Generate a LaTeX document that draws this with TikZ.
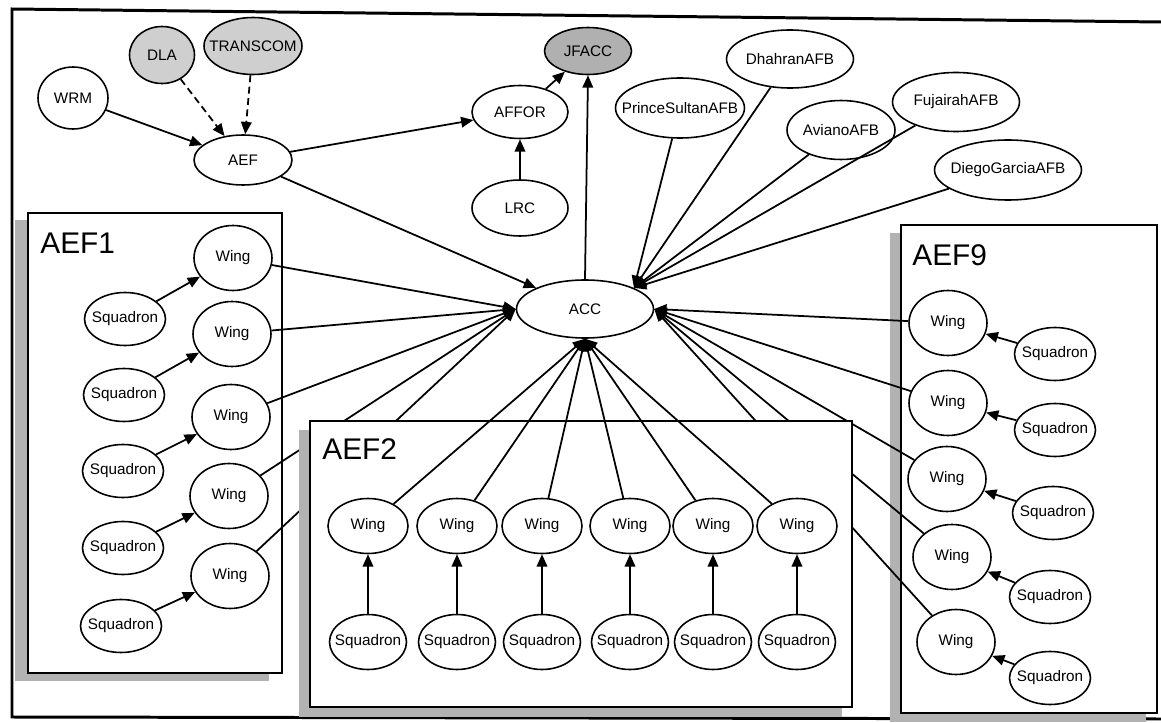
\documentclass[tikz,border=0pt]{standalone}
\usepackage{fontspec}
\setmainfont{Liberation Sans}
\usetikzlibrary{arrows.meta,shapes.geometric}

\newcommand{\etic}[1]{\makebox[0pt]{#1}}

\begin{document}
\begin{tikzpicture}[x=0.02cm, y=-0.02cm,
		every node/.style={font=\fontsize{8.7}{10}\selectfont},
		nodo/.style={draw, ellipse, line width=0.9pt, fill=white, inner sep=0pt},
		grigio/.style={nodo, fill=gray!38},
		scuro/.style={nodo, fill=gray!62},
		wing/.style={nodo, minimum width=1.56cm, minimum height=1.3cm},
		squad/.style={nodo, minimum width=1.62cm, minimum height=1.06cm},
		arco/.style={line width=1pt, -{Triangle[length=7pt, width=6pt]}},
		gruppo/.style={draw, line width=0.8pt, fill=white},
		ombra/.style={fill=gray!60},
		titolo/.style={anchor=west, inner sep=0pt, font=\fontsize{17}{20}\selectfont}]
	\useasboundingbox (0,0) rectangle (1161,723);

	% cornice
	\draw[line width=1.7pt] (1161,22) -- (12,9) -- (12,717) -- (1161,719);

	% riquadri AEF1 e AEF9
	\fill[ombra] (15,220) rectangle (269,681);
	\draw[gruppo] (28,213) rectangle (282,673);
	\node[titolo] (t1) at (40,243) {AEF1};
	\fill[ombra] (890,233) rectangle (1146,722);
	\draw[gruppo] (901,225) rectangle (1157,713);
	\node[titolo] (t9) at (912,255) {AEF9};

	% nodi in alto
	\node[nodo, minimum width=1.4cm, minimum height=1.24cm] (wrm) at (73,98) {\etic{WRM}};
	\node[grigio, minimum width=1.3cm, minimum height=1.14cm] (dla) at (162,55) {\etic{DLA}};
	\node[grigio, minimum width=1.96cm, minimum height=1.14cm] (transcom) at (253,46) {\etic{TRANSCOM}};
	\node[nodo, minimum width=1.96cm, minimum height=1.0cm] (aef) at (243,160) {\etic{AEF}};
	\node[nodo, minimum width=1.92cm, minimum height=1.06cm] (affor) at (520,112) {\etic{AFFOR}};
	\node[scuro, minimum width=1.74cm, minimum height=0.94cm] (jfacc) at (588,51) {\etic{JFACC}};
	\node[nodo, minimum width=1.92cm, minimum height=1.12cm] (lrc) at (520,208) {\etic{LRC}};
	\node[nodo, minimum width=2.58cm, minimum height=1.2cm] (ps) at (680,108) {\etic{PrinceSultanAFB}};
	\node[nodo, minimum width=2.54cm, minimum height=1.16cm] (dh) at (790,59) {\etic{DhahranAFB}};
	\node[nodo, minimum width=2.16cm, minimum height=1.18cm] (av) at (841,130) {\etic{AvianoAFB}};
	\node[nodo, minimum width=2.54cm, minimum height=1.18cm] (fu) at (956,102) {\etic{FujairahAFB}};
	\node[nodo, minimum width=2.94cm, minimum height=1.2cm] (dg) at (1008,170) {\etic{DiegoGarciaAFB}};
	\node[nodo, minimum width=2.74cm, minimum height=1.16cm] (acc) at (585,309) {\etic{ACC}};

	\draw[arco] (wrm) -- (aef);
	\draw[arco, dash pattern=on 4pt off 2.5pt] (dla) -- (aef);
	\draw[arco, dash pattern=on 4pt off 2.5pt] (transcom) -- (aef);
	\draw[arco] (aef) -- (affor);
	\draw[arco] (lrc) -- (affor);
	\draw[arco] (affor) -- (jfacc);
	\draw[arco] (acc.north) -- (jfacc.south);
	\draw[arco] (aef) -- (acc.north west);
	\foreach \b in {ps,dh,av,fu,dg}
		\draw[arco] (\b) -- (acc.north east);

	% AEF1
	\foreach \i/\wx/\wy/\sx/\sy in {1/233/258/125/319, 2/232/334/124/395, 3/231/417/123/471, 4/229/496/123/548, 5/230/576/121/626} {
		\node[wing] (w1_\i) at (\wx,\wy) {\etic{Wing}};
		\node[squad] (s1_\i) at (\sx,\sy) {\etic{Squadron}};
		\draw[arco] (s1_\i) -- (w1_\i);
		\draw[arco] (w1_\i) -- (acc.west);
	}

	% AEF9
	\foreach \i/\wx/\wy/\sx/\sy in {1/948/323/1055/354, 2/948/403/1055/430, 3/947/479/1053/513, 4/952/557/1050/597, 5/956/642/1050/678} {
		\node[wing] (w9_\i) at (\wx,\wy) {\etic{Wing}};
		\node[squad] (s9_\i) at (\sx,\sy) {\etic{Squadron}};
		\draw[arco] (s9_\i) -- (w9_\i);
		\draw[arco] (w9_\i) -- (acc.east);
	}

	% AEF2 (copre gli archi che passano dietro)
	\fill[ombra] (299,430) rectangle (842,717);
	\draw[gruppo] (310,421) rectangle (852,707);
	\node[titolo] (t2) at (322,449) {AEF2};
	\foreach \i/\x in {1/368, 2/457, 3/542, 4/630, 5/713, 6/797} {
		\node[wing, minimum width=1.6cm, minimum height=1.1cm] (w2_\i) at (\x,526) {\etic{Wing}};
		\node[squad, minimum width=1.54cm, minimum height=1.1cm] (s2_\i) at (\x,642) {\etic{Squadron}};
		\draw[arco] (s2_\i) -- (w2_\i);
		\draw[arco] (w2_\i) -- (acc.south);
	}
\end{tikzpicture}
\end{document}
